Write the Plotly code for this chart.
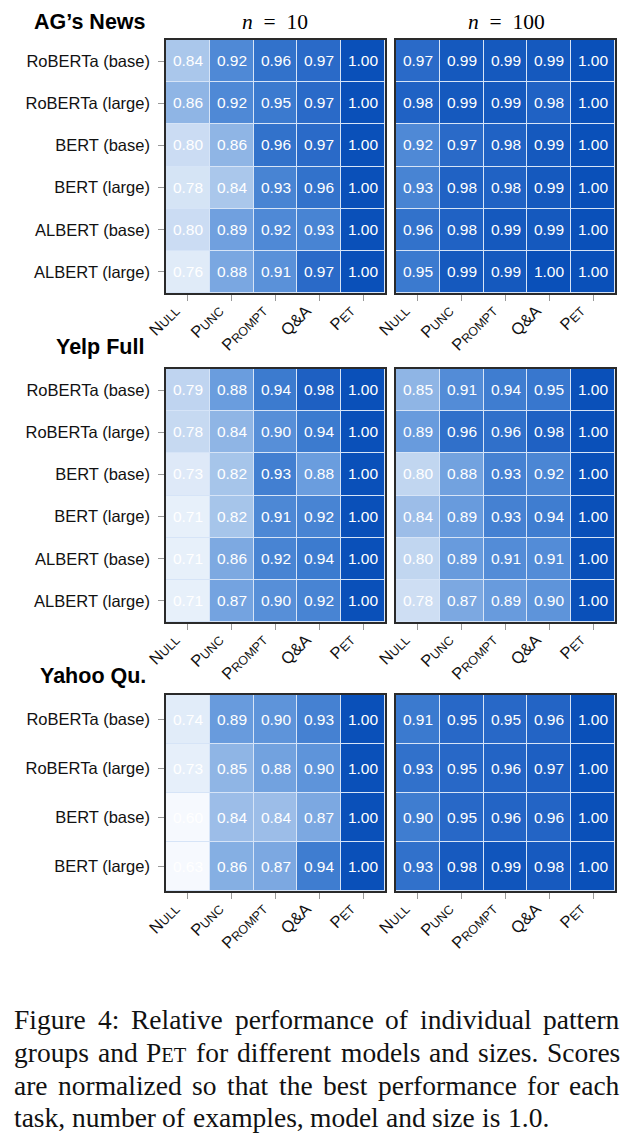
import plotly.graph_objects as go

# ---------------- data ----------------
patterns = ["NULL", "PUNC", "PROMPT", "Q&A", "PET"]
pattern_labels = [
    "N<span style='font-size:12.5px'>ULL</span>",
    "P<span style='font-size:12.5px'>UNC</span>",
    "P<span style='font-size:12.5px'>ROMPT</span>",
    "Q&amp;A",
    "P<span style='font-size:12.5px'>ET</span>",
]
models6 = ["RoBERTa (base)", "RoBERTa (large)", "BERT (base)", "BERT (large)",
           "ALBERT (base)", "ALBERT (large)"]
models4 = ["RoBERTa (base)", "RoBERTa (large)", "BERT (base)", "BERT (large)"]
tasks = ["AG’s News", "Yelp Full", "Yahoo Qu."]
n_labels = ["<i>n</i>  =  10", "<i>n</i>  =  100"]

ag_n10 = [
    [0.84, 0.92, 0.96, 0.97, 1.00],
    [0.86, 0.92, 0.95, 0.97, 1.00],
    [0.80, 0.86, 0.96, 0.97, 1.00],
    [0.78, 0.84, 0.93, 0.96, 1.00],
    [0.80, 0.89, 0.92, 0.93, 1.00],
    [0.76, 0.88, 0.91, 0.97, 1.00],
]
ag_n100 = [
    [0.97, 0.99, 0.99, 0.99, 1.00],
    [0.98, 0.99, 0.99, 0.98, 1.00],
    [0.92, 0.97, 0.98, 0.99, 1.00],
    [0.93, 0.98, 0.98, 0.99, 1.00],
    [0.96, 0.98, 0.99, 0.99, 1.00],
    [0.95, 0.99, 0.99, 1.00, 1.00],
]
yelp_n10 = [
    [0.79, 0.88, 0.94, 0.98, 1.00],
    [0.78, 0.84, 0.90, 0.94, 1.00],
    [0.73, 0.82, 0.93, 0.88, 1.00],
    [0.71, 0.82, 0.91, 0.92, 1.00],
    [0.71, 0.86, 0.92, 0.94, 1.00],
    [0.71, 0.87, 0.90, 0.92, 1.00],
]
yelp_n100 = [
    [0.85, 0.91, 0.94, 0.95, 1.00],
    [0.89, 0.96, 0.96, 0.98, 1.00],
    [0.80, 0.88, 0.93, 0.92, 1.00],
    [0.84, 0.89, 0.93, 0.94, 1.00],
    [0.80, 0.89, 0.91, 0.91, 1.00],
    [0.78, 0.87, 0.89, 0.90, 1.00],
]
yahoo_n10 = [
    [0.74, 0.89, 0.90, 0.93, 1.00],
    [0.73, 0.85, 0.88, 0.90, 1.00],
    [0.60, 0.84, 0.84, 0.87, 1.00],
    [0.63, 0.86, 0.87, 0.94, 1.00],
]
yahoo_n100 = [
    [0.91, 0.95, 0.95, 0.96, 1.00],
    [0.93, 0.95, 0.96, 0.97, 1.00],
    [0.90, 0.95, 0.96, 0.96, 1.00],
    [0.93, 0.98, 0.99, 0.98, 1.00],
]

caption_lines = [
    ["Figure", "4:", "Relative", "performance", "of", "individual", "pattern"],
    ["groups", "and", "P|ET", "for", "different", "models", "and", "sizes.", "Scores"],
    ["are", "normalized", "so", "that", "the", "best", "performance", "for", "each"],
    ["task,", "number", "of", "examples,", "model", "and", "size", "is", "1.0."],
]
caption_justify = [True, True, True, False]

# ---------------- style ----------------
OFF = 8                      # default page margin of the browser
W, H = 634 - 2 * OFF, 1142 - 2 * OFF
colorscale = [
    [0.00, "#f6f9fe"],
    [0.10, "#e6effa"],
    [0.30, "#c9dbf2"],
    [0.42, "#adc9ec"],
    [0.50, "#8fb5e5"],
    [0.62, "#6c9ede"],
    [0.72, "#4d88d5"],
    [0.82, "#3b7acf"],
    [0.92, "#2364c5"],
    [1.00, "#0a50b9"],
]
panels = [
    (ag_n10, models6, 0, 0, 0.72),
    (ag_n100, models6, 0, 1, 0.72),
    (yelp_n10, models6, 1, 0, 0.68),
    (yelp_n100, models6, 1, 1, 0.70),
    (yahoo_n10, models4, 2, 0, 0.70),
    (yahoo_n100, models4, 2, 1, 0.50),
]
col_px = [(166, 385), (396, 615)]
row_px = [(40, 293), (369, 622), (695, 891)]
title_pos = [(90, 22), (100, 347), (93, 676)]
n_pos = [(275, 8), (506, 8)]
sans = "Liberation Sans, Arial, sans-serif"
serif = "Liberation Serif, Times New Roman, serif"
CAP_SIZE = 27.5
SC_SIZE = 20.5
CAP_LEFT, CAP_RIGHT = 14, 620
cap_y = [1019, 1052, 1085, 1117]

# Times-compatible advance widths (1/1000 em) for Liberation Serif
TW = dict(zip("abcdefghijklmnopqrstuvwxyz",
              [444, 500, 444, 500, 444, 333, 500, 500, 278, 278, 500, 278, 778,
               500, 500, 500, 500, 333, 389, 278, 500, 500, 722, 500, 500, 444]))
TW.update(dict(zip("ABCDEFGHIJKLMNOPQRSTUVWXYZ",
                   [722, 667, 667, 722, 611, 556, 722, 722, 333, 389, 722, 611, 889,
                    722, 722, 556, 722, 667, 556, 611, 722, 722, 944, 722, 722, 611])))
TW.update({d: 500 for d in "0123456789"})
TW.update({".": 250, ",": 250, ":": 278, " ": 250})


def word_width(w):
    if "|" in w:
        big, small = w.split("|")
        return (sum(TW[ch] for ch in big) * CAP_SIZE + sum(TW[ch] for ch in small) * SC_SIZE) / 1000
    return sum(TW[ch] for ch in w) * CAP_SIZE / 1000


def word_text(w):
    if "|" in w:
        big, small = w.split("|")
        return f"{big}<span style='font-size:{SC_SIZE}px'>{small}</span>"
    return w


def fx(px):
    return (px - OFF) / W


def fy(py):
    return 1 - (py - OFF) / H


fig = go.Figure()
layout = dict(
    width=W, height=H, margin=dict(l=0, r=0, t=0, b=0, autoexpand=False),
    paper_bgcolor="white", plot_bgcolor="#d6e4f7", showlegend=False,
)

for i, (z, models, r, c, zmin) in enumerate(panels):
    k = i + 1
    xa = "x" if k == 1 else f"x{k}"
    ya = "y" if k == 1 else f"y{k}"
    fig.add_trace(go.Heatmap(
        z=z, x=patterns, y=models, xaxis=xa, yaxis=ya,
        colorscale=colorscale, zmin=zmin, zmax=1.0, showscale=False,
        texttemplate="%{z:.2f}", textfont=dict(color="white", size=15.5, family=sans),
        xgap=1, ygap=1, hoverinfo="skip",
    ))
    x0, x1 = col_px[c]
    t, b = row_px[r]
    layout["xaxis" if k == 1 else f"xaxis{k}"] = dict(
        domain=[fx(x0), fx(x1)], anchor=ya, automargin=False,
        tickmode="array", tickvals=patterns, ticktext=pattern_labels,
        tickangle=-45, ticks="outside", ticklen=6, tickcolor="#999999",
        ticklabelstandoff=-6, ticklabelshift=-13,
        tickfont=dict(family=sans, size=16.5, color="#111111"),
        showline=True, mirror=True, linecolor="#2a2a2a", linewidth=1.5,
        showgrid=False, zeroline=False, fixedrange=True,
    )
    layout["yaxis" if k == 1 else f"yaxis{k}"] = dict(
        domain=[fy(b), fy(t)], anchor=xa, autorange="reversed", automargin=False,
        showticklabels=(c == 0), ticks="outside" if c == 0 else "",
        ticklen=6, tickcolor="#999999", ticklabelstandoff=5,
        tickfont=dict(family=sans, size=16.5, color="#111111"),
        showline=True, mirror=True, linecolor="#2a2a2a", linewidth=1.5,
        showgrid=False, zeroline=False, fixedrange=True,
    )

annotations = []
for name, (px, py) in zip(tasks, title_pos):
    annotations.append(dict(
        text=f"<b>{name}</b>", x=fx(px), y=fy(py), xref="paper", yref="paper",
        showarrow=False, xanchor="center", yanchor="middle",
        font=dict(family=sans, size=21.5, color="black"),
    ))
for lab, (px, py) in zip(n_labels, n_pos):
    annotations.append(dict(
        text=lab, x=fx(px), y=fy(py), xref="paper", yref="paper",
        showarrow=False, xanchor="center", yanchor="top",
        font=dict(family=serif, size=21.5, color="black"),
    ))

for words, py, just in zip(caption_lines, cap_y, caption_justify):
    widths = [word_width(w) for w in words]
    if just:
        gap = (CAP_RIGHT - CAP_LEFT - sum(widths)) / (len(words) - 1)
    else:
        gap = TW[" "] * CAP_SIZE / 1000
    xpos = CAP_LEFT
    for w, wd in zip(words, widths):
        annotations.append(dict(
            text=word_text(w), x=fx(xpos + wd / 2), y=fy(py), xref="paper", yref="paper",
            showarrow=False, xanchor="center", yanchor="middle",
            font=dict(family=serif, size=CAP_SIZE, color="#111111"),
        ))
        xpos += wd + gap

layout["annotations"] = annotations
fig.update_layout(**layout)
fig.write_html("out.html")
